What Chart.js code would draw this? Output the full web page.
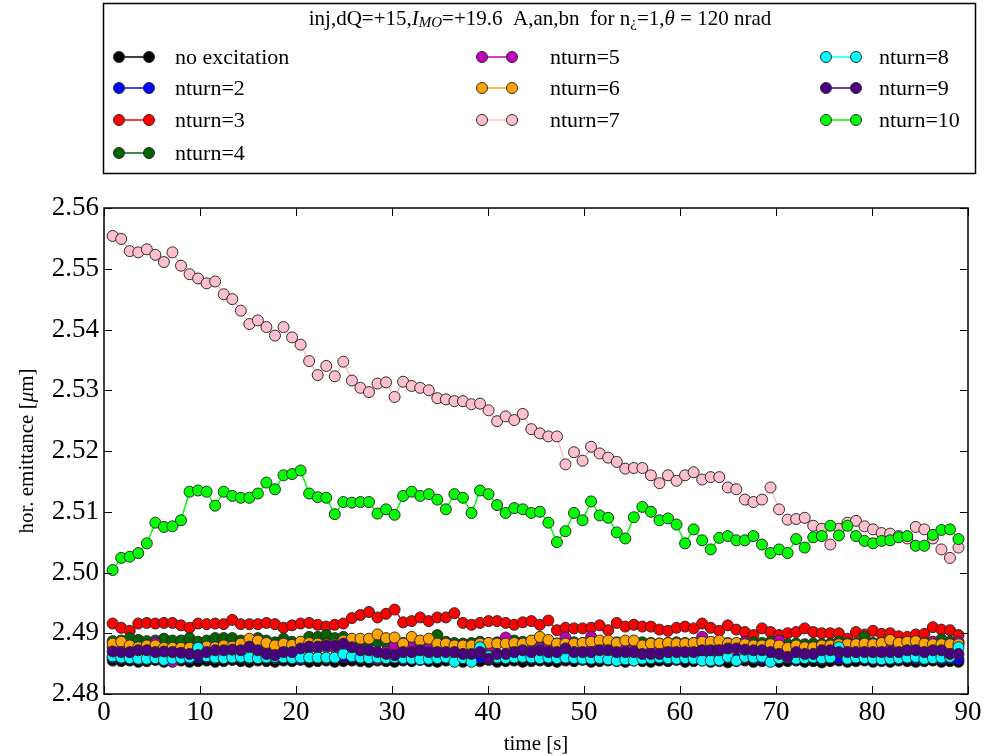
<!DOCTYPE html>
<html>
<head>
<meta charset="utf-8">
<script src="https://cdn.jsdelivr.net/npm/chart.js@4/dist/chart.umd.min.js"></script>
<style>
html,body{margin:0;padding:0;background:#fff;}
#wrap{width:994px;height:756px;}
</style>
</head>
<body>
<div id="wrap"><canvas id="c" width="994" height="756"></canvas></div>
<script>
// temps (s) de chaque mesure
const times = [
  0.90,1.79,2.68,3.57,4.46,5.35,6.24,7.13,8.02,8.91,
  9.80,10.69,11.58,12.47,13.36,14.25,15.14,16.03,16.92,17.81,
  18.70,19.59,20.48,21.37,22.26,23.15,24.04,24.93,25.82,26.71,
  27.60,28.49,29.38,30.27,31.16,32.05,32.94,33.83,34.72,35.61,
  36.50,37.39,38.28,39.17,40.06,40.95,41.84,42.73,43.62,44.51,
  45.40,46.29,47.18,48.07,48.96,49.85,50.74,51.63,52.52,53.41,
  54.30,55.19,56.08,56.97,57.86,58.75,59.64,60.53,61.42,62.31,
  63.20,64.09,64.98,65.87,66.76,67.65,68.54,69.43,70.32,71.21,
  72.10,72.99,73.88,74.77,75.66,76.55,77.44,78.33,79.22,80.11,
  81.00,81.89,82.78,83.67,84.56,85.45,86.34,87.23,88.12,89.01
];

const noExc = [
  2.4855,2.4854,2.4855,2.4853,2.4854,2.4856,2.4853,2.4854,2.4855,2.4853,
  2.4854,2.4855,2.4853,2.4854,2.4856,2.4854,2.4853,2.4855,2.4854,2.4853,
  2.4855,2.4854,2.4856,2.4853,2.4854,2.4855,2.4853,2.4854,2.4855,2.4854,
  2.4853,2.4855,2.4854,2.4853,2.4855,2.4854,2.4856,2.4854,2.4853,2.4855,
  2.4854,2.4853,2.4855,2.4854,2.4856,2.4853,2.4854,2.4855,2.4853,2.4854,
  2.4855,2.4854,2.4853,2.4855,2.4854,2.4856,2.4853,2.4854,2.4855,2.4854,
  2.4853,2.4855,2.4854,2.4853,2.4855,2.4854,2.4856,2.4853,2.4854,2.4855,
  2.4853,2.4854,2.4852,2.4854,2.4855,2.4853,2.4854,2.4855,2.4853,2.4854,
  2.4855,2.4853,2.4854,2.4852,2.4854,2.4855,2.4853,2.4854,2.4855,2.4853,
  2.4854,2.4853,2.4855,2.4854,2.4853,2.4854,2.4855,2.4853,2.4854,2.4853
];
const nturn2 = [
  2.4860,2.4859,2.4861,2.4860,2.4858,2.4860,2.4861,2.4859,2.4860,2.4858,
  2.4860,2.4861,2.4859,2.4860,2.4862,2.4860,2.4859,2.4861,2.4860,2.4859,
  2.4861,2.4860,2.4858,2.4860,2.4861,2.4859,2.4860,2.4861,2.4860,2.4859,
  2.4860,2.4861,2.4859,2.4860,2.4858,2.4860,2.4861,2.4859,2.4860,2.4861,
  2.4859,2.4860,2.4858,2.4860,2.4861,2.4859,2.4860,2.4862,2.4860,2.4859,
  2.4861,2.4860,2.4859,2.4860,2.4861,2.4859,2.4860,2.4858,2.4860,2.4861,
  2.4859,2.4860,2.4861,2.4859,2.4860,2.4858,2.4860,2.4861,2.4859,2.4860,
  2.4858,2.4859,2.4860,2.4858,2.4860,2.4859,2.4858,2.4860,2.4859,2.4860,
  2.4861,2.4859,2.4860,2.4858,2.4860,2.4859,2.4860,2.4861,2.4859,2.4860,
  2.4858,2.4860,2.4859,2.4860,2.4858,2.4859,2.4860,2.4858,2.4859,2.4858
];
const nturn3 = [
  2.4916,2.4909,2.4904,2.4916,2.4917,2.4916,2.4917,2.4917,2.4913,2.4909,
  2.4916,2.4915,2.4916,2.4915,2.4922,2.4915,2.4915,2.4915,2.4917,2.4915,
  2.4909,2.4913,2.4916,2.4917,2.4914,2.4911,2.4914,2.4916,2.4925,2.4930,
  2.4935,2.4926,2.4932,2.4939,2.4918,2.4920,2.4926,2.4920,2.4926,2.4926,
  2.4933,2.4917,2.4914,2.4917,2.4920,2.4920,2.4917,2.4914,2.4918,2.4920,
  2.4914,2.4921,2.4905,2.4909,2.4908,2.4908,2.4909,2.4913,2.4905,2.4917,
  2.4911,2.4914,2.4911,2.4911,2.4906,2.4904,2.4909,2.4911,2.4908,2.4916,
  2.4909,2.4904,2.4913,2.4906,2.4902,2.4897,2.4908,2.4902,2.4897,2.4900,
  2.4902,2.4908,2.4902,2.4900,2.4900,2.4900,2.4891,2.4902,2.4898,2.4904,
  2.4899,2.4900,2.4895,2.4894,2.4898,2.4899,2.4910,2.4906,2.4905,2.4897
];
const nturn4 = [
  2.4887,2.4888,2.4892,2.4889,2.4887,2.4888,2.4891,2.4888,2.4888,2.4892,
  2.4886,2.4888,2.4892,2.4892,2.4892,2.4888,2.4888,2.4892,2.4888,2.4885,
  2.4891,2.4886,2.4885,2.4894,2.4894,2.4897,2.4892,2.4894,2.4888,2.4886,
  2.4885,2.4886,2.4884,2.4885,2.4884,2.4886,2.4884,2.4885,2.4897,2.4886,
  2.4884,2.4883,2.4884,2.4886,2.4884,2.4885,2.4884,2.4888,2.4886,2.4887,
  2.4885,2.4884,2.4883,2.4884,2.4885,2.4884,2.4886,2.4885,2.4884,2.4885,
  2.4884,2.4883,2.4885,2.4884,2.4883,2.4884,2.4885,2.4884,2.4884,2.4885,
  2.4884,2.4883,2.4884,2.4883,2.4884,2.4885,2.4884,2.4886,2.4884,2.4882,
  2.4883,2.4882,2.4883,2.4882,2.4883,2.4886,2.4884,2.4883,2.4894,2.4884,
  2.4885,2.4886,2.4884,2.4885,2.4886,2.4884,2.4885,2.4890,2.4886,2.4884
];
const nturn5 = [
  2.4877,2.4876,2.4875,2.4877,2.4876,2.4884,2.4874,2.4853,2.4874,2.4876,
  2.4875,2.4876,2.4877,2.4876,2.4875,2.4876,2.4877,2.4875,2.4876,2.4874,
  2.4876,2.4877,2.4876,2.4875,2.4876,2.4877,2.4876,2.4875,2.4876,2.4874,
  2.4868,2.4858,2.4870,2.4880,2.4876,2.4877,2.4876,2.4875,2.4876,2.4877,
  2.4876,2.4875,2.4876,2.4877,2.4878,2.4884,2.4893,2.4880,2.4876,2.4877,
  2.4876,2.4877,2.4880,2.4893,2.4880,2.4878,2.4894,2.4879,2.4876,2.4877,
  2.4876,2.4875,2.4876,2.4877,2.4876,2.4875,2.4876,2.4877,2.4880,2.4894,
  2.4878,2.4876,2.4877,2.4878,2.4886,2.4877,2.4876,2.4877,2.4888,2.4877,
  2.4876,2.4877,2.4876,2.4875,2.4876,2.4877,2.4876,2.4877,2.4876,2.4877,
  2.4876,2.4875,2.4876,2.4877,2.4876,2.4878,2.4886,2.4877,2.4876,2.4886
];
const nturn6 = [
  2.4883,2.4886,2.4880,2.4877,2.4880,2.4880,2.4876,2.4876,2.4876,2.4876,
  2.4877,2.4878,2.4877,2.4880,2.4878,2.4883,2.4891,2.4888,2.4884,2.4880,
  2.4883,2.4881,2.4886,2.4884,2.4883,2.4882,2.4882,2.4888,2.4891,2.4891,
  2.4891,2.4898,2.4892,2.4893,2.4883,2.4894,2.4888,2.4891,2.4883,2.4883,
  2.4880,2.4880,2.4880,2.4883,2.4884,2.4883,2.4883,2.4884,2.4883,2.4888,
  2.4894,2.4889,2.4883,2.4883,2.4883,2.4884,2.4886,2.4888,2.4888,2.4884,
  2.4888,2.4888,2.4880,2.4883,2.4883,2.4884,2.4883,2.4883,2.4884,2.4886,
  2.4886,2.4888,2.4883,2.4884,2.4882,2.4880,2.4880,2.4882,2.4880,2.4876,
  2.4880,2.4877,2.4877,2.4880,2.4880,2.4882,2.4882,2.4882,2.4883,2.4882,
  2.4884,2.4889,2.4884,2.4886,2.4887,2.4883,2.4882,2.4882,2.4882,2.4882
];
const nturn7 = [
  2.5554,2.5549,2.5529,2.5527,2.5532,2.5523,2.5511,2.5527,2.5505,2.5491,
  2.5484,2.5476,2.5479,2.5458,2.5450,2.5431,2.5409,2.5415,2.5404,2.5390,
  2.5404,2.5387,2.5375,2.5348,2.5325,2.5340,2.5323,2.5347,2.5316,2.5304,
  2.5297,2.5311,2.5313,2.5289,2.5314,2.5307,2.5304,2.5300,2.5287,2.5285,
  2.5282,2.5282,2.5277,2.5278,2.5267,2.5249,2.5257,2.5251,2.5261,2.5236,
  2.5229,2.5224,2.5224,2.5178,2.5198,2.5184,2.5207,2.5196,2.5189,2.5182,
  2.5171,2.5172,2.5172,2.5160,2.5147,2.5160,2.5151,2.5160,2.5165,2.5153,
  2.5157,2.5157,2.5140,2.5137,2.5120,2.5116,2.5120,2.5140,2.5104,2.5087,
  2.5088,2.5090,2.5077,2.5072,2.5046,2.5072,2.5082,2.5085,2.5076,2.5071,
  2.5065,2.5064,2.5060,2.5056,2.5075,2.5071,2.5056,2.5038,2.5024,2.5041
];
const nturn8 = [
  2.4862,2.4860,2.4859,2.4858,2.4858,2.4859,2.4856,2.4858,2.4859,2.4860,
  2.4876,2.4862,2.4860,2.4859,2.4860,2.4861,2.4860,2.4859,2.4860,2.4861,
  2.4860,2.4859,2.4860,2.4860,2.4860,2.4860,2.4860,2.4866,2.4862,2.4860,
  2.4859,2.4860,2.4859,2.4860,2.4859,2.4858,2.4857,2.4858,2.4859,2.4860,
  2.4853,2.4859,2.4853,2.4877,2.4862,2.4860,2.4859,2.4860,2.4861,2.4860,
  2.4859,2.4860,2.4859,2.4860,2.4859,2.4858,2.4858,2.4859,2.4857,2.4855,
  2.4857,2.4855,2.4858,2.4859,2.4860,2.4859,2.4858,2.4859,2.4858,2.4855,
  2.4855,2.4856,2.4861,2.4855,2.4861,2.4860,2.4861,2.4853,2.4859,2.4860,
  2.4858,2.4859,2.4860,2.4859,2.4860,2.4877,2.4858,2.4860,2.4859,2.4858,
  2.4857,2.4858,2.4859,2.4860,2.4861,2.4858,2.4859,2.4860,2.4861,2.4877
];
const nturn9 = [
  2.4870,2.4869,2.4869,2.4872,2.4872,2.4869,2.4870,2.4869,2.4868,2.4866,
  2.4864,2.4869,2.4872,2.4872,2.4873,2.4872,2.4878,2.4872,2.4866,2.4864,
  2.4869,2.4869,2.4875,2.4878,2.4878,2.4880,2.4880,2.4883,2.4877,2.4872,
  2.4872,2.4869,2.4866,2.4864,2.4869,2.4869,2.4872,2.4869,2.4869,2.4869,
  2.4869,2.4866,2.4866,2.4869,2.4858,2.4866,2.4866,2.4869,2.4872,2.4869,
  2.4872,2.4869,2.4869,2.4875,2.4869,2.4869,2.4869,2.4872,2.4872,2.4869,
  2.4869,2.4869,2.4866,2.4866,2.4866,2.4869,2.4869,2.4869,2.4869,2.4872,
  2.4872,2.4872,2.4875,2.4875,2.4873,2.4872,2.4872,2.4869,2.4866,2.4861,
  2.4869,2.4866,2.4866,2.4872,2.4872,2.4869,2.4869,2.4869,2.4869,2.4869,
  2.4869,2.4869,2.4869,2.4872,2.4872,2.4869,2.4872,2.4872,2.4866,2.4866
];
const nturn10 = [
  2.5004,2.5024,2.5026,2.5032,2.5048,2.5082,2.5075,2.5076,2.5086,2.5133,
  2.5135,2.5133,2.5110,2.5133,2.5126,2.5123,2.5123,2.5130,2.5148,2.5137,
  2.5160,2.5162,2.5168,2.5130,2.5124,2.5123,2.5096,2.5116,2.5115,2.5116,
  2.5116,2.5097,2.5104,2.5095,2.5126,2.5133,2.5126,2.5129,2.5120,2.5104,
  2.5129,2.5123,2.5098,2.5135,2.5129,2.5111,2.5098,2.5106,2.5104,2.5098,
  2.5100,2.5082,2.5050,2.5068,2.5098,2.5086,2.5117,2.5094,2.5090,2.5066,
  2.5056,2.5091,2.5108,2.5100,2.5086,2.5089,2.5079,2.5048,2.5071,2.5053,
  2.5038,2.5057,2.5060,2.5053,2.5053,2.5060,2.5046,2.5032,2.5038,2.5032,
  2.5055,2.5041,2.5058,2.5060,2.5077,2.5061,2.5077,2.5060,2.5052,2.5048,
  2.5052,2.5053,2.5058,2.5060,2.5044,2.5044,2.5062,2.5070,2.5071,2.5055
];

const seriesLabels = ['no excitation','nturn=2','nturn=3','nturn=4','nturn=5','nturn=6','nturn=7','nturn=8','nturn=9','nturn=10'];
const seriesValues = [noExc,nturn2,nturn3,nturn4,nturn5,nturn6,nturn7,nturn8,nturn9,nturn10];
const seriesColors = ['#000000','#0000ff','#ff0000','#006400','#bf00bf','#ffa500','#ffc0cb','#00ffff','#4b0082','#00ff00'];
const xTicks = [0,10,20,30,40,50,60,70,80,90];
const yTicks = [2.48,2.49,2.50,2.51,2.52,2.53,2.54,2.55,2.56];

const SERIF = '"Liberation Serif","DejaVu Serif",serif';
const EDGE = '#2a2a2a';

// morceaux de texte : [texte, style, taille, décalage vertical]
function drawRuns(ctx, runs, x, y, align){
  let w = 0;
  runs.forEach(r=>{ ctx.font = `${r[1]} ${r[2]}px ${SERIF}`; w += ctx.measureText(r[0]).width; });
  let cx = align==='center' ? x - w/2 : x;
  runs.forEach(r=>{
    ctx.font = `${r[1]} ${r[2]}px ${SERIF}`;
    ctx.fillText(r[0], cx, y + (r[3]||0));
    cx += ctx.measureText(r[0]).width;
  });
}

const decorPlugin = {
  id:'decor',
  afterDraw(chart){
    const ctx = chart.ctx, a = chart.chartArea;
    const xs = chart.scales.x, ys = chart.scales.y;
    ctx.save();
    ctx.strokeStyle = '#000';
    ctx.fillStyle = '#000';
    // cadre des axes
    ctx.lineWidth = 1.5;
    ctx.strokeRect(a.left, a.top, a.right-a.left, a.bottom-a.top);
    // graduations vers l'intérieur, sur les 4 côtés
    ctx.lineWidth = 1;
    const L = 8;
    xTicks.forEach(v=>{
      const px = Math.round(xs.getPixelForValue(v))+0.5;
      ctx.beginPath();
      ctx.moveTo(px, a.bottom); ctx.lineTo(px, a.bottom-L);
      ctx.moveTo(px, a.top); ctx.lineTo(px, a.top+L);
      ctx.stroke();
    });
    yTicks.forEach(v=>{
      const py = Math.round(ys.getPixelForValue(v))+0.5;
      ctx.beginPath();
      ctx.moveTo(a.left, py); ctx.lineTo(a.left+L, py);
      ctx.moveTo(a.right, py); ctx.lineTo(a.right-L, py);
      ctx.stroke();
    });

    // titres des axes
    ctx.textBaseline = 'middle';
    ctx.textAlign = 'left';
    drawRuns(ctx, [['time [s]','normal',21]], (a.left+a.right)/2, 744, 'center');
    ctx.save();
    ctx.translate(27, (a.top+a.bottom)/2);
    ctx.rotate(-Math.PI/2);
    drawRuns(ctx, [['hor. emittance [','normal',21],['\u03bc','italic',21],['m]','normal',21]], 0, 0, 'center');
    ctx.restore();

    // boîte de légende
    ctx.lineWidth = 1.5;
    ctx.strokeRect(103.5, 3.5, 872, 170);
    drawRuns(ctx, [
      ['inj,dQ=+15,','normal',21],
      ['I','italic',21],
      ['MO','italic',15,4],
      ['=+19.6  A,an,bn  for n','normal',21],
      ['\u00bf','normal',15,4],
      ['=1,','normal',21],
      ['\u03b8','italic',21],
      [' = 120 nrad','normal',21]
    ], 540, 19, 'center');

    const cols = [{m1:119,m2:149,tx:175},{m1:482,m2:512,tx:550},{m1:826,m2:856,tx:879}];
    const rows = [57,88,120,153];
    const slots = [[0,0],[0,1],[0,2],[0,3],[1,0],[1,1],[1,2],[2,0],[2,1],[2,2]];
    seriesLabels.forEach((lab,i)=>{
      const c = cols[slots[i][0]], y = rows[slots[i][1]];
      ctx.strokeStyle = seriesColors[i];
      ctx.lineWidth = 1.5;
      ctx.beginPath(); ctx.moveTo(c.m1, y); ctx.lineTo(c.m2, y); ctx.stroke();
      [c.m1, c.m2].forEach(mx=>{
        ctx.beginPath(); ctx.arc(mx, y, 5.5, 0, Math.PI*2);
        ctx.fillStyle = seriesColors[i]; ctx.fill();
        ctx.strokeStyle = EDGE; ctx.lineWidth = 1; ctx.stroke();
      });
      ctx.fillStyle = '#000';
      drawRuns(ctx, [[lab,'normal',22]], c.tx, y+1, 'left');
    });
    ctx.restore();
  }
};

const datasets = seriesValues.map((vals,i)=>({
  label: seriesLabels[i],
  data: vals.map((v,k)=>({x:times[k], y:v})),
  borderColor: seriesColors[i],
  borderWidth: 1.5,
  backgroundColor: seriesColors[i],
  pointBackgroundColor: seriesColors[i],
  pointBorderColor: EDGE,
  pointBorderWidth: 1,
  pointRadius: 5.5,
  tension: 0,
  order: seriesLabels.length - i   // les dernières séries dessinées au-dessus
}));

new Chart(document.getElementById('c'), {
  type:'line',
  data:{datasets},
  options:{
    responsive:false,
    devicePixelRatio:1,
    animation:false,
    events:[],
    layout:{padding:{top:208,right:26,left:0,bottom:0}},
    plugins:{legend:{display:false}, tooltip:{enabled:false}},
    scales:{
      x:{
        type:'linear', min:0, max:90,
        afterBuildTicks: s=>{ s.ticks = xTicks.map(v=>({value:v})); },
        afterFit: s=>{ s.height = 62; },
        grid:{display:false, drawTicks:false},
        border:{display:false},
        ticks:{color:'#000', padding:3, maxRotation:0, autoSkip:false, font:{family:SERIF, size:27}}
      },
      y:{
        type:'linear', min:2.48, max:2.56,
        afterBuildTicks: s=>{ s.ticks = yTicks.map(v=>({value:v})); },
        afterFit: s=>{ s.width = 104; },
        grid:{display:false, drawTicks:false},
        border:{display:false},
        ticks:{color:'#000', padding:5, autoSkip:false, font:{family:SERIF, size:27}, callback:v=>v.toFixed(2)}
      }
    }
  },
  plugins:[decorPlugin]
});
</script>
</body>
</html>
